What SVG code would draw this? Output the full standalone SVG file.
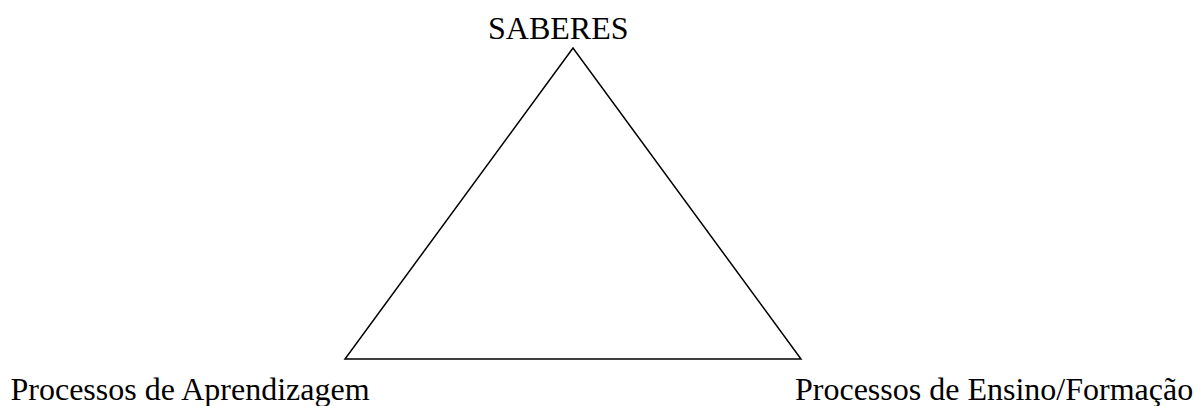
<svg xmlns="http://www.w3.org/2000/svg" width="1195" height="406" viewBox="0 0 1195 406">
<style>
.lbl{font-family:"Liberation Serif","Times New Roman",serif;font-size:32px;fill:#000}
.edge{fill:none;stroke:#000;stroke-width:1.5}
</style>
<rect width="1195" height="406" fill="#fff"/>
<g id="connectors">
<polygon class="edge" points="573,48 345,359 801,359"/>
</g>
<g id="saberes"><text class="lbl" x="488" y="39">SABERES</text></g>
<g id="aprendizagem"><text class="lbl" x="10.5" y="400">Processos de Aprendizagem</text></g>
<g id="ensino"><text class="lbl" x="795" y="400">Processos de Ensino/Formação</text></g>
</svg>
